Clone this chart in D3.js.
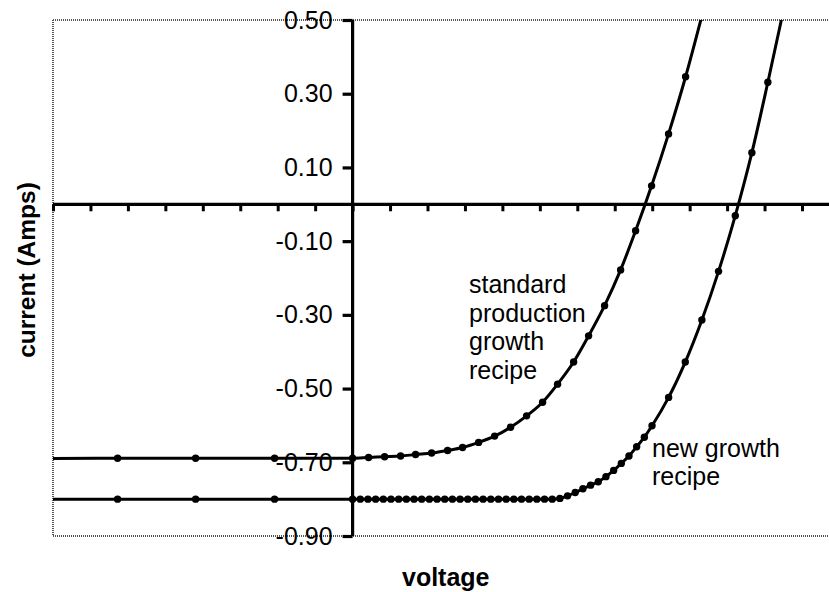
<!DOCTYPE html>
<html>
<head>
<meta charset="utf-8">
<script src="https://cdn.jsdelivr.net/npm/d3@7"></script>
<style>
  html, body { margin: 0; padding: 0; background: #fff; }
  svg { display: block; }
  text { font-family: Arial, "Liberation Sans", sans-serif; fill: #000; }
</style>
</head>
<body>
<svg id="chart" width="829" height="592"></svg>
<script>
// ---- data (voltage in V, current in A) ----
const stdVoltage = [-0.500, -0.3765, -0.2515, -0.125, 0.000, 0.0256, 0.0513, 0.0769, 0.1009, 0.1266,
  0.1522, 0.1762, 0.2019, 0.2275, 0.2531, 0.2788, 0.3044, 0.3284, 0.3541, 0.3781,
  0.4037, 0.4294, 0.4534, 0.4790, 0.5062, 0.5335, 0.5591];
const stdCurrent = [-0.690, -0.689, -0.689, -0.689, -0.689, -0.687, -0.685, -0.683, -0.679, -0.675,
  -0.668, -0.660, -0.646, -0.629, -0.605, -0.574, -0.537, -0.488, -0.428, -0.357,
  -0.275, -0.178, -0.072, 0.050, 0.191, 0.346, 0.508];

const newVoltage = [-0.500, -0.3765, -0.2515, -0.125,
  0.0000, 0.0123, 0.0246, 0.0369, 0.0492, 0.0615, 0.0738, 0.0861, 0.0984, 0.1107,
  0.1230, 0.1353, 0.1476, 0.1599, 0.1722, 0.1845, 0.1968, 0.2091, 0.2214, 0.2337,
  0.2460, 0.2583, 0.2706, 0.2829, 0.2952, 0.3075, 0.3198,
  0.3321, 0.3444, 0.3567, 0.3690, 0.3813, 0.3936, 0.4059, 0.4182, 0.4305, 0.4428,
  0.4551, 0.4674, 0.4797,
  0.5063, 0.5330, 0.5596, 0.5863, 0.6131, 0.6397, 0.6653, 0.6920];
const newCurrent = [-0.800, -0.800, -0.800, -0.800,
  -0.800, -0.800, -0.800, -0.800, -0.800, -0.800, -0.800, -0.800, -0.800, -0.800,
  -0.800, -0.800, -0.800, -0.800, -0.800, -0.800, -0.800, -0.800, -0.800, -0.800,
  -0.800, -0.800, -0.800, -0.800, -0.800, -0.800, -0.800,
  -0.798, -0.791, -0.782, -0.772, -0.762, -0.753, -0.739, -0.722, -0.703, -0.683,
  -0.658, -0.632, -0.601,
  -0.524, -0.428, -0.314, -0.182, -0.031, 0.140, 0.331, 0.540];

const yTicks = [0.5, 0.3, 0.1, -0.1, -0.3, -0.5, -0.7, -0.9];
const xTicks = [-0.48, -0.42, -0.36, -0.30, -0.24, -0.18, -0.12, -0.06, 0, 0.06, 0.12, 0.18,
  0.24, 0.30, 0.36, 0.42, 0.48, 0.54, 0.60, 0.66, 0.72];

const stdLabel = ["standard", "production", "growth", "recipe"];
const newLabel = ["new growth", "recipe"];
const xTitle = "voltage";
const yTitle = "current (Amps)";

// ---- layout ----
const svg = d3.select("#chart");
const pLeft = 53, pTop = 20, pBottom = 536, pRight = 840;
const x = d3.scaleLinear().domain([-0.48, 0.72]).range([53, 802]);
const y = d3.scaleLinear().domain([-0.9, 0.5]).range([pBottom, pTop]);

svg.append("defs").append("clipPath").attr("id", "plotclip")
  .append("rect").attr("x", pLeft).attr("y", pTop).attr("width", pRight - pLeft).attr("height", pBottom - pTop);

// dotted frame
const frame = svg.append("g").attr("stroke", "#555").attr("stroke-width", 2)
  .attr("stroke-dasharray", "1 1").attr("fill", "none");
frame.append("line").attr("x1", pLeft).attr("x2", pRight).attr("y1", pTop).attr("y2", pTop);
frame.append("line").attr("x1", pLeft).attr("x2", pRight).attr("y1", pBottom).attr("y2", pBottom);
frame.append("line").attr("x1", pLeft).attr("x2", pLeft).attr("y1", pTop).attr("y2", pBottom);

// x axis (at y = 0)
const xAxis = svg.append("g").attr("transform", `translate(0,${y(0)})`)
  .call(d3.axisBottom(x).tickValues(xTicks).tickSize(7).tickFormat(""));
xAxis.select(".domain").remove();
xAxis.selectAll(".tick line").attr("stroke", "#000").attr("stroke-width", 3);
svg.append("line").attr("x1", pLeft).attr("x2", pRight).attr("y1", y(0)).attr("y2", y(0))
  .attr("stroke", "#000").attr("stroke-width", 3.2);

// y axis (at x = 0)
const fmt = d => d3.format(".2f")(d).replace("\u2212", "-");
const yAxis = svg.append("g").attr("transform", `translate(${x(0)},0)`)
  .call(d3.axisLeft(y).tickValues(yTicks).tickSize(10).tickPadding(10).tickFormat(fmt));
yAxis.select(".domain").remove();
yAxis.selectAll(".tick line").attr("stroke", "#000").attr("stroke-width", 3.2);
yAxis.selectAll(".tick text").attr("font-size", 25).attr("font-family", "Arial, 'Liberation Sans', sans-serif").attr("fill", "#000");
svg.append("line").attr("x1", x(0)).attr("x2", x(0)).attr("y1", pTop).attr("y2", pBottom)
  .attr("stroke", "#000").attr("stroke-width", 3.2);

// series
const plot = svg.append("g").attr("clip-path", "url(#plotclip)");
const line = d3.line().x(d => x(d[0])).y(d => y(d[1])).curve(d3.curveMonotoneX);
function series(xs, ys) {
  const pts = xs.map((v, i) => [v, ys[i]]);
  plot.append("path").datum(pts).attr("d", line).attr("fill", "none")
    .attr("stroke", "#000").attr("stroke-width", 3);
  plot.selectAll(null).data(pts).enter().append("circle")
    .attr("cx", d => x(d[0])).attr("cy", d => y(d[1])).attr("r", 3.7).attr("fill", "#000");
}
series(stdVoltage, stdCurrent);
series(newVoltage, newCurrent);

// annotations
svg.append("text").attr("x", 469).attr("y", 293).attr("font-size", 25)
  .selectAll("tspan").data(stdLabel).enter().append("tspan")
  .attr("x", 469).attr("dy", (d, i) => i === 0 ? 0 : 28.7).text(d => d);
svg.append("text").attr("x", 652).attr("y", 457).attr("font-size", 25)
  .selectAll("tspan").data(newLabel).enter().append("tspan")
  .attr("x", 652).attr("dy", (d, i) => i === 0 ? 0 : 28.3).text(d => d);

// titles
svg.append("text").attr("x", 402).attr("y", 586).attr("font-size", 25).attr("font-weight", "bold").text(xTitle);
svg.append("text").attr("transform", "translate(35,270) rotate(-90)").attr("text-anchor", "middle")
  .attr("font-size", 24.5).attr("font-weight", "bold").text(yTitle);
</script>
</body>
</html>
